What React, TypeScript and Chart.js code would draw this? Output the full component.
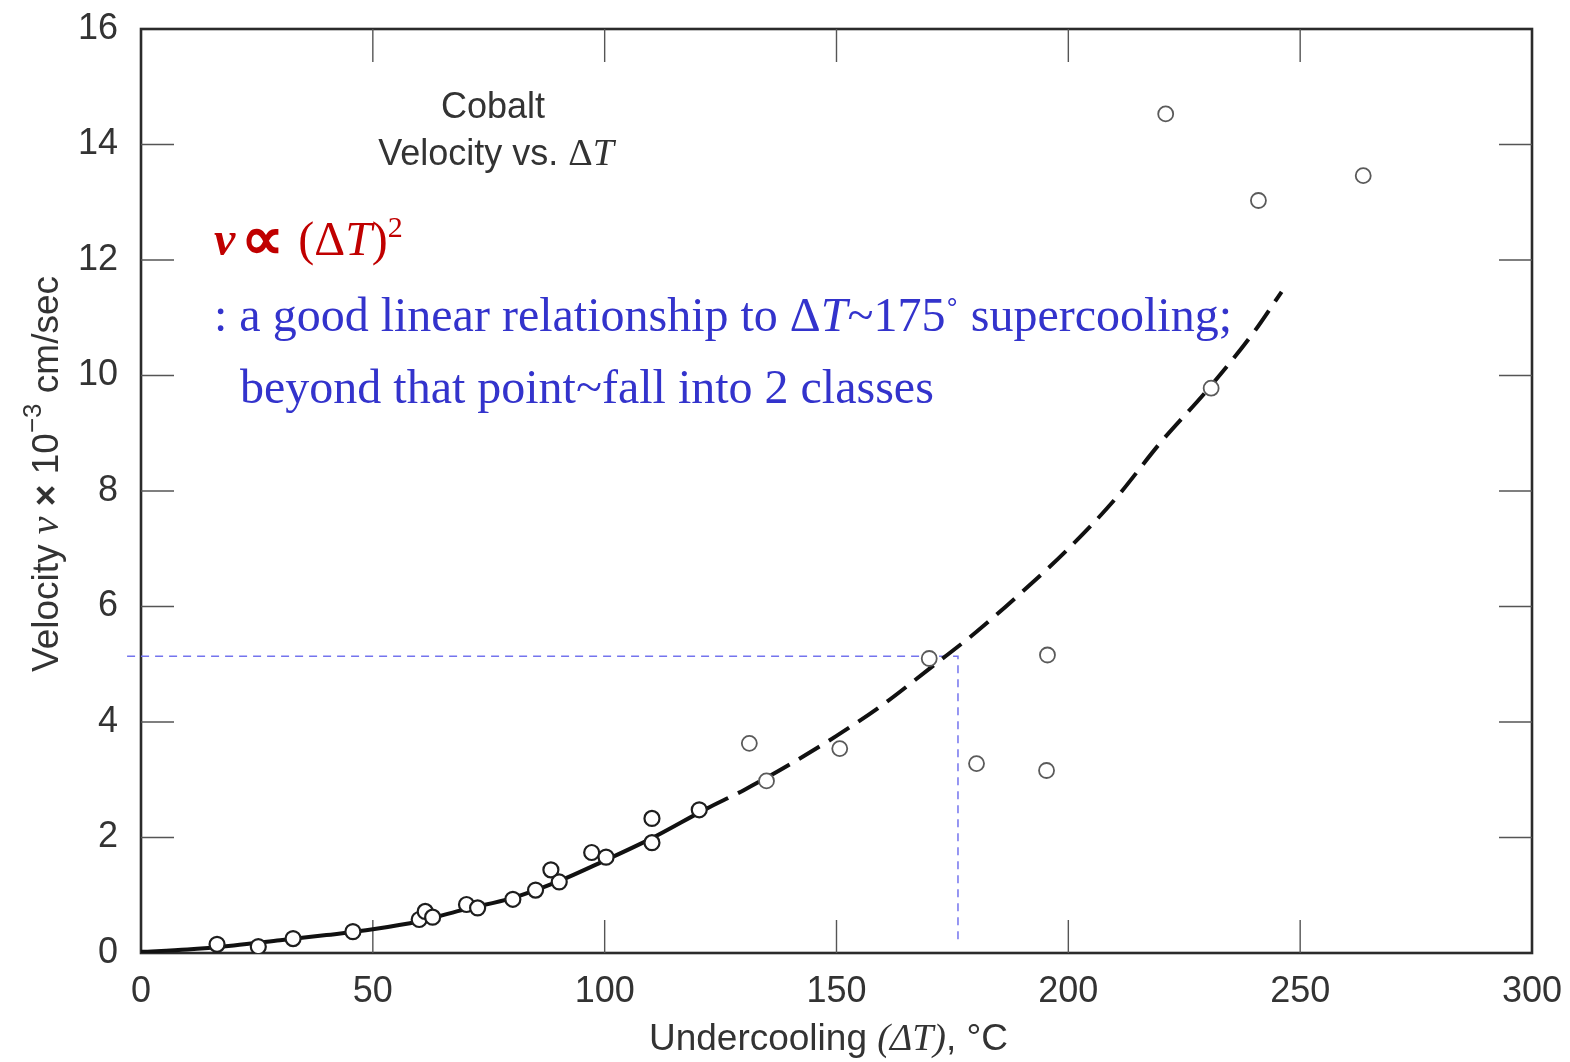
import React, { useEffect, useRef } from "react";
import { Chart, registerables } from "chart.js";

Chart.register(...registerables);

// Axis ticks
const X_TICKS = [0, 50, 100, 150, 200, 250, 300];
const X_TICK_LABELS = ["0", "50", "100", "150", "200", "250", "300"];
const Y_TICKS = [0, 2, 4, 6, 8, 10, 12, 14, 16];
const Y_TICK_LABELS = ["0", "2", "4", "6", "8", "10", "12", "14", "16"];

// Measured growth velocities (undercooling in °C, velocity in 10^-3 cm/sec)
const sampleDT = [16.4, 25.3, 32.8, 45.7, 60.0, 61.3, 62.9, 70.2, 72.6, 80.2, 85.1, 88.4, 90.2, 97.2, 100.3, 110.2, 110.2, 120.4, 131.2, 134.9, 150.7, 170.0, 180.2, 195.3, 195.5, 221.0, 230.8, 241.0, 263.6];
const sampleV = [0.15, 0.11, 0.25, 0.37, 0.58, 0.72, 0.62, 0.84, 0.78, 0.93, 1.09, 1.44, 1.23, 1.74, 1.66, 2.33, 1.91, 2.48, 3.63, 2.98, 3.54, 5.10, 3.28, 3.16, 5.16, 14.53, 9.78, 13.03, 13.46];

// Fitted trend curve (solid up to ~122 °C, dashed beyond)
const curveDT = [0, 10, 20, 30, 40, 50, 60, 70, 80, 90, 100, 110, 122, 130, 140, 150, 160, 170, 180, 190, 200, 210, 220, 230, 240, 246];
const curveV = [0.02, 0.06, 0.13, 0.22, 0.31, 0.41, 0.55, 0.76, 0.95, 1.24, 1.6, 1.98, 2.5, 2.82, 3.27, 3.76, 4.3, 4.92, 5.55, 6.25, 7.0, 7.85, 8.85, 9.75, 10.75, 11.45];
const DASH_FROM_DT = 122;

// Guide marking ΔT ≈ 175 °C
const guideDT = [-3, 176.2, 176.2];
const guideV = [5.14, 5.14, 0.17];

const SANS = '"Liberation Sans", Arial, sans-serif';
const SERIF = '"Liberation Serif", "Times New Roman", serif';

type Seg = { t: string; f: string; c?: string; dy?: number };

function drawRich(ctx: CanvasRenderingContext2D, segs: Seg[], x: number, y: number, align: "left" | "center", color: string) {
  let w = 0;
  for (const s of segs) {
    ctx.font = s.f;
    w += ctx.measureText(s.t).width;
  }
  let cx = align === "center" ? x - w / 2 : x;
  ctx.textAlign = "left";
  ctx.textBaseline = "alphabetic";
  for (const s of segs) {
    ctx.font = s.f;
    ctx.fillStyle = s.c || color;
    ctx.fillText(s.t, cx, y + (s.dy || 0));
    cx += ctx.measureText(s.t).width;
  }
}

const framePlugin = {
  id: "frameAndNotes",
  beforeDatasetsDraw(chart: any) {
    const { ctx, chartArea: a, scales } = chart;
    const xs = scales.x;
    const ys = scales.y;
    ctx.save();
    ctx.strokeStyle = "#2b2b2b";
    ctx.lineWidth = 2.6;
    ctx.strokeRect(a.left, a.top, a.right - a.left, a.bottom - a.top);
    const L = 33;
    ctx.strokeStyle = "#555";
    ctx.lineWidth = 1.4;
    ctx.beginPath();
    for (const v of X_TICKS) {
      if (v <= xs.min || v >= xs.max) continue;
      const px = xs.getPixelForValue(v);
      ctx.moveTo(px, a.bottom);
      ctx.lineTo(px, a.bottom - L);
      ctx.moveTo(px, a.top);
      ctx.lineTo(px, a.top + L);
    }
    for (const v of Y_TICKS) {
      if (v <= ys.min || v >= ys.max) continue;
      const py = ys.getPixelForValue(v);
      ctx.moveTo(a.left, py);
      ctx.lineTo(a.left + L, py);
      ctx.moveTo(a.right, py);
      ctx.lineTo(a.right - L, py);
    }
    ctx.stroke();
    ctx.restore();
  },
  afterDraw(chart: any) {
    const { ctx, chartArea: a } = chart;
    ctx.save();
    const grey = "#333";

    // Panel title
    drawRich(ctx, [{ t: "Cobalt", f: `36px ${SANS}` }], 493, 118, "center", grey);
    drawRich(
      ctx,
      [
        { t: "Velocity vs. ", f: `36px ${SANS}` },
        { t: "\u0394", f: `38px ${SERIF}` },
        { t: "T", f: `italic 38px ${SERIF}` },
      ],
      496,
      165,
      "center",
      grey
    );

    // Red relation
    const red = "#c00000";
    drawRich(
      ctx,
      [
        { t: "v", f: `bold italic 48px ${SERIF}` },
        { t: " ", f: `24px ${SERIF}` },
        { t: "\u221D", f: `bold 60px ${SERIF}`, dy: 4 },
        { t: " ", f: `56px ${SERIF}` },
        { t: "(\u0394", f: `48px ${SERIF}` },
        { t: "T", f: `italic 48px ${SERIF}` },
        { t: ")", f: `48px ${SERIF}` },
        { t: "2", f: `30px ${SERIF}`, dy: -18 },
      ],
      214,
      255,
      "left",
      red
    );

    // Blue note
    const blue = "#3333cc";
    drawRich(
      ctx,
      [
        { t: ": a good linear relationship to \u0394", f: `48px ${SERIF}` },
        { t: "T", f: `italic 48px ${SERIF}` },
        { t: "~175", f: `48px ${SERIF}` },
        { t: "\u02DA", f: `40px ${SERIF}`, dy: -4 },
        { t: " supercooling;", f: `48px ${SERIF}` },
      ],
      214,
      331,
      "left",
      blue
    );
    drawRich(ctx, [{ t: "beyond that point~fall into 2 classes", f: `48px ${SERIF}` }], 240, 403, "left", blue);

    // X axis title
    drawRich(
      ctx,
      [
        { t: "Undercooling ", f: `37px ${SANS}` },
        { t: "(\u0394", f: `italic 38px ${SERIF}` },
        { t: "T", f: `italic 38px ${SERIF}` },
        { t: ")", f: `italic 38px ${SERIF}` },
        { t: ", \u00B0C", f: `37px ${SANS}` },
      ],
      (a.left + a.right) / 2 - 8,
      1050,
      "center",
      grey
    );

    // Y axis title (rotated)
    ctx.translate(58, 474);
    ctx.rotate(-Math.PI / 2);
    drawRich(
      ctx,
      [
        { t: "Velocity ", f: `37px ${SANS}` },
        { t: "v", f: `italic 40px ${SERIF}` },
        { t: " ", f: `37px ${SANS}` },
        { t: "\u00D7", f: `bold 37px ${SANS}` },
        { t: " 10", f: `37px ${SANS}` },
        { t: "\u22123", f: `26px ${SANS}`, dy: -17 },
        { t: " cm/sec", f: `37px ${SANS}` },
      ],
      0,
      0,
      "center",
      grey
    );
    ctx.restore();
  },
};

function zeroPadding(s: any) {
  s.paddingTop = 0;
  s.paddingBottom = 0;
  s.paddingLeft = 0;
  s.paddingRight = 0;
}

export default function App() {
  const ref = useRef<HTMLCanvasElement | null>(null);

  useEffect(() => {
    document.body.style.margin = "0";
    const canvas = ref.current;
    if (!canvas) return;

    const chart = new Chart(canvas, {
      type: "scatter",
      data: {
        datasets: [
          {
            type: "scatter",
            label: "samples",
            data: sampleDT.map((x, i) => ({ x, y: sampleV[i] })),
            pointRadius: 7.5,
            pointBackgroundColor: "#ffffff",
            pointBorderColor: (c: any) => (c.raw && c.raw.x < 125 ? "#1e1e1e" : "#5a5a5a"),
            pointBorderWidth: (c: any) => (c.raw && c.raw.x < 125 ? 2.2 : 1.8),
            order: 0,
          } as any,
          {
            type: "line",
            label: "trend",
            data: curveDT.map((x, i) => ({ x, y: curveV[i] })),
            borderColor: "#111",
            borderWidth: 4,
            pointRadius: 0,
            cubicInterpolationMode: "monotone",
            fill: false,
            segment: {
              borderDash: (c: any) => (c.p0.parsed.x >= DASH_FROM_DT ? [24, 11] : undefined),
            },
            order: 1,
          } as any,
          {
            type: "line",
            label: "guide",
            data: guideDT.map((x, i) => ({ x, y: guideV[i] })),
            borderColor: "#7474ee",
            borderWidth: 1.5,
            borderDash: [8, 6],
            pointRadius: 0,
            tension: 0,
            fill: false,
            clip: false,
            order: 2,
          } as any,
        ],
      },
      options: {
        animation: false,
        responsive: false,
        devicePixelRatio: 1,
        events: [],
        layout: { padding: { left: 0, top: 29, right: 38, bottom: 0 } },
        plugins: { legend: { display: false }, tooltip: { enabled: false } },
        scales: {
          x: {
            type: "linear",
            min: 0,
            max: 300,
            afterBuildTicks: (s: any) => {
              s.ticks = X_TICKS.map((v) => ({ value: v }));
            },
            afterFit: (s: any) => {
              s.height = 109;
              zeroPadding(s);
            },
            grid: { display: false, drawTicks: false },
            border: { display: false },
            ticks: {
              padding: 17,
              maxRotation: 0,
              autoSkip: false,
              color: "#333",
              font: { family: SANS, size: 36 },
              callback: (_v: any, i: number) => X_TICK_LABELS[i],
            },
          },
          y: {
            type: "linear",
            min: 0,
            max: 16,
            afterBuildTicks: (s: any) => {
              s.ticks = Y_TICKS.map((v) => ({ value: v }));
            },
            afterFit: (s: any) => {
              s.width = 141;
              zeroPadding(s);
            },
            grid: { display: false, drawTicks: false },
            border: { display: false },
            ticks: {
              padding: 23,
              autoSkip: false,
              color: "#333",
              font: { family: SANS, size: 36 },
              callback: (_v: any, i: number) => Y_TICK_LABELS[i],
            },
          },
        },
      },
      plugins: [framePlugin],
    } as any);

    return () => chart.destroy();
  }, []);

  return (
    <div style={{ width: 1570, height: 1062, background: "#fff" }}>
      <canvas ref={ref} width={1570} height={1062} style={{ display: "block" }} />
    </div>
  );
}
